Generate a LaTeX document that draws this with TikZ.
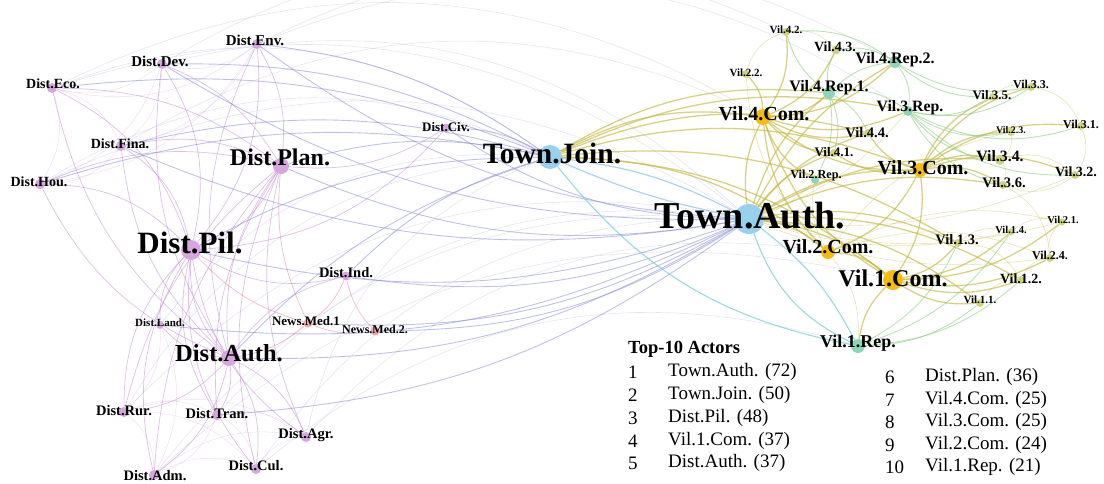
\documentclass[tikz,border=0pt]{standalone}
\usepackage{fontspec}
\setmainfont{Liberation Serif}
\pgfdeclarelayer{bg}
\pgfsetlayers{bg,main}
% node fills
\definecolor{cDist}{RGB}{214,166,222}
\definecolor{cNews}{RGB}{238,166,178}
\definecolor{cTown}{RGB}{150,210,238}
\definecolor{cCom}{RGB}{246,188,10}
\definecolor{cVil}{RGB}{206,212,122}
\definecolor{cRep}{RGB}{140,214,184}
% edge colours
\definecolor{eDist}{RGB}{200,148,210}
\definecolor{eNews}{RGB}{232,150,170}
\definecolor{eMix}{RGB}{138,142,212}
\definecolor{eOlive}{RGB}{196,184,66}
\definecolor{eGreen}{RGB}{140,206,130}
\definecolor{eCyan}{RGB}{110,202,212}
\definecolor{eBlue}{RGB}{120,182,228}
\definecolor{eFaint}{RGB}{196,196,224}
\tikzset{
  dot/.style={circle,inner sep=0pt,draw=none,fill=#1},
  lb/.style={font=\fontsize{#1}{#1}\selectfont\bfseries,inner sep=0pt,text=black},
  lg/.style={font=\fontsize{19}{19}\selectfont,inner sep=0pt,anchor=west},
  ed/.style={draw=eDist,line width=0.7pt,opacity=0.6},
  edf/.style={draw=eDist,line width=0.5pt,opacity=0.3},
  en/.style={draw=eNews,line width=0.8pt,opacity=0.6},
  em/.style={draw=eMix,line width=0.9pt,opacity=0.55},
  emf/.style={draw=eFaint,line width=0.6pt,opacity=0.45},
  eo/.style={draw=eOlive,line width=1.3pt,opacity=0.65},
  eof/.style={draw=eOlive,line width=0.6pt,opacity=0.4},
  eg/.style={draw=eGreen,line width=0.9pt,opacity=0.6},
  ec/.style={draw=eCyan,line width=1.1pt,opacity=0.7},
  eb/.style={draw=eBlue,line width=1.2pt,opacity=0.6},
}
\begin{document}
\begin{tikzpicture}[x=1pt,y=-1pt]
\useasboundingbox (0,0) rectangle (1104,483);

% ---------- district actors ----------
\node[dot=cDist,minimum size=10] (env)  at (257,44)  {};
\node[dot=cDist,minimum size=10] (dev)  at (162,64)  {};
\node[dot=cDist,minimum size=10] (eco)  at (52,88)   {};
\node[dot=cDist,minimum size=10] (fina) at (121,146) {};
\node[dot=cDist,minimum size=16] (plan) at (281,166) {};
\node[dot=cDist,minimum size=10] (hou)  at (40,184)  {};
\node[dot=cDist,minimum size=20] (pil)  at (191,250) {};
\node[dot=cDist,minimum size=9]  (civ)  at (446,128) {};
\node[dot=cDist,minimum size=9]  (ind)  at (346,276) {};
\node[dot=cDist,minimum size=8]  (land) at (160,325) {};
\node[dot=cNews,minimum size=9]  (nm1)  at (308,323) {};
\node[dot=cNews,minimum size=9]  (nm2)  at (375,331) {};
\node[dot=cDist,minimum size=16] (dauth) at (229,358) {};
\node[dot=cDist,minimum size=10] (rur)  at (124,412) {};
\node[dot=cDist,minimum size=10] (tran) at (217,415) {};
\node[dot=cDist,minimum size=10] (agr)  at (306,437) {};
\node[dot=cDist,minimum size=10] (cul)  at (256,469) {};
\node[dot=cDist,minimum size=10] (adm)  at (154,475) {};

% ---------- town actors ----------
\node[dot=cTown,minimum size=24] (tjoin) at (550,157) {};
\node[dot=cTown,minimum size=30] (tauth) at (749,219) {};

% ---------- village actors ----------
\node[dot=cVil,minimum size=8]  (v42)  at (786,32)   {};
\node[dot=cVil,minimum size=9]  (v43)  at (836,50)   {};
\node[dot=cRep,minimum size=12] (vr42) at (895,62)   {};
\node[dot=cVil,minimum size=8]  (v22)  at (746,74)   {};
\node[dot=cRep,minimum size=12] (vr41) at (829,93)   {};
\node[dot=cCom,minimum size=16] (v4c)  at (763,117)  {};
\node[dot=cRep,minimum size=10] (v3r)  at (908,111)  {};
\node[dot=cVil,minimum size=8]  (v33)  at (1031,87)  {};
\node[dot=cVil,minimum size=8]  (v35)  at (993,97)   {};
\node[dot=cVil,minimum size=8]  (v31)  at (1081,126) {};
\node[dot=cVil,minimum size=8]  (v23)  at (1011,132) {};
\node[dot=cVil,minimum size=8]  (v44)  at (868,133)  {};
\node[dot=cVil,minimum size=8]  (v41)  at (834,153)  {};
\node[dot=cVil,minimum size=10] (v34)  at (1000,160) {};
\node[dot=cCom,minimum size=14] (v3c)  at (920,170)  {};
\node[dot=cRep,minimum size=8]  (v2r)  at (815,180)  {};
\node[dot=cVil,minimum size=8]  (v36)  at (1003,185) {};
\node[dot=cVil,minimum size=8]  (v32)  at (1075,175) {};
\node[dot=cVil,minimum size=7]  (v21)  at (1062,222) {};
\node[dot=cVil,minimum size=7]  (v14)  at (1011,232) {};
\node[dot=cVil,minimum size=8]  (v13)  at (958,243)  {};
\node[dot=cCom,minimum size=14] (v2c)  at (828,252)  {};
\node[dot=cVil,minimum size=8]  (v24)  at (1050,258) {};
\node[dot=cCom,minimum size=20] (v1c)  at (893,280)  {};
\node[dot=cVil,minimum size=8]  (v12)  at (1021,280) {};
\node[dot=cVil,minimum size=8]  (v11)  at (980,303)  {};
\node[dot=cRep,minimum size=14] (v1r)  at (858,346)  {};

% ---------- labels ----------
\node[lb=15]   (env-t)  at (255,40)  {Dist.Env.};
\node[lb=15]   (dev-t)  at (160,61)  {Dist.Dev.};
\node[lb=14]   (eco-t)  at (53,84)   {Dist.Eco.};
\node[lb=14]   (fina-t) at (120,144) {Dist.Fina.};
\node[lb=24]   (plan-t) at (280,157) {Dist.Plan.};
\node[lb=14]   (hou-t)  at (39,182)  {Dist.Hou.};
\node[lb=31]   (pil-t)  at (190,243) {Dist.Pil.};
\node[lb=13]   (civ-t)  at (446,127) {Dist.Civ.};
\node[lb=14.5] (ind-t)  at (346,273) {Dist.Ind.};
\node[lb=11]   (land-t) at (160,323) {Dist.Land.};
\node[lb=13]   (nm1-t)  at (306,321) {News.Med.1};
\node[lb=12]   (nm2-t)  at (375,329) {News.Med.2.};
\node[lb=24.5] (dauth-t) at (229,353) {Dist.Auth.};
\node[lb=14.5] (rur-t)  at (124,411) {Dist.Rur.};
\node[lb=14.5] (tran-t) at (217,414) {Dist.Tran.};
\node[lb=14.5] (agr-t)  at (306,435) {Dist.Agr.};
\node[lb=14.5] (cul-t)  at (256,466) {Dist.Cul.};
\node[lb=14.5] (adm-t)  at (155,476) {Dist.Adm.};
\node[lb=29.5] (tjoin-t) at (552,153) {Town.Join.};
\node[lb=38]   (tauth-t) at (750,216) {Town.Auth.};
\node[lb=11]   (v42-t)  at (786,30)  {Vil.4.2.};
\node[lb=14]   (v43-t)  at (835,47)  {Vil.4.3.};
\node[lb=16]   (vr42-t) at (895,60)  {Vil.4.Rep.2.};
\node[lb=11]   (v22-t)  at (746,73)  {Vil.2.2.};
\node[lb=16]   (vr41-t) at (829,88)  {Vil.4.Rep.1.};
\node[lb=20]   (v4c-t)  at (764,114) {Vil.4.Com.};
\node[lb=15.8] (v3r-t)  at (910,108) {Vil.3.Rep.};
\node[lb=12]   (v33-t)  at (1031,84) {Vil.3.3.};
\node[lb=13]   (v35-t)  at (992,95)  {Vil.3.5.};
\node[lb=12]   (v31-t)  at (1081,124) {Vil.3.1.};
\node[lb=10]   (v23-t)  at (1011,130) {Vil.2.3.};
\node[lb=14.5] (v44-t)  at (867,133) {Vil.4.4.};
\node[lb=13]   (v41-t)  at (834,152) {Vil.4.1.};
\node[lb=15.8] (v34-t)  at (1000,156) {Vil.3.4.};
\node[lb=20]   (v3c-t)  at (923,168) {Vil.3.Com.};
\node[lb=12.2] (v2r-t)  at (816,176) {Vil.2.Rep.};
\node[lb=14.5] (v36-t)  at (1004,183) {Vil.3.6.};
\node[lb=14]   (v32-t)  at (1076,172) {Vil.3.2.};
\node[lb=10.5] (v21-t)  at (1063,220) {Vil.2.1.};
\node[lb=10.5] (v14-t)  at (1011,230) {Vil.1.4.};
\node[lb=14.5] (v13-t)  at (957,240) {Vil.1.3.};
\node[lb=20]   (v2c-t)  at (828,247) {Vil.2.Com.};
\node[lb=12]   (v24-t)  at (1050,255) {Vil.2.4.};
\node[lb=24]   (v1c-t)  at (893,278) {Vil.1.Com.};
\node[lb=14]   (v12-t)  at (1021,279) {Vil.1.2.};
\node[lb=11]   (v11-t)  at (980,300) {Vil.1.1.};
\node[lb=18]   (v1r-t)  at (858,343) {Vil.1.Rep.};

% ---------- ranking table ----------
\node[anchor=west,inner sep=0pt,font=\fontsize{18.5}{18.5}\selectfont\bfseries] (top) at (628,349) {Top-10 Actors};
\node[lg] (n1) at (628,372) {1};  \node[lg] (r1) at (668,372) {Town.Auth. (72)};
\node[lg] (n2) at (628,395) {2};  \node[lg] (r2) at (668,395) {Town.Join. (50)};
\node[lg] (n3) at (628,418) {3};  \node[lg] (r3) at (668,418) {Dist.Pil. (48)};
\node[lg] (n4) at (628,441) {4};  \node[lg] (r4) at (668,441) {Vil.1.Com. (37)};
\node[lg] (n5) at (628,463) {5};  \node[lg] (r5) at (668,463) {Dist.Auth. (37)};
\node[lg] (n6) at (885,377) {6};  \node[lg] (r6) at (925,377) {Dist.Plan. (36)};
\node[lg] (n7) at (885,400) {7};  \node[lg] (r7) at (925,400) {Vil.4.Com. (25)};
\node[lg] (n8) at (885,422) {8};  \node[lg] (r8) at (925,422) {Vil.3.Com. (25)};
\node[lg] (n9) at (885,445) {9};  \node[lg] (r9) at (925,445) {Vil.2.Com. (24)};
\node[lg] (n10) at (885,467) {10}; \node[lg] (r10) at (925,467) {Vil.1.Rep. (21)};

% ---------- ties ----------
\begin{pgfonlayer}{bg}
% faint long-range ties
\foreach \a/\b in {eco/v4c,dev/v42,env/vr42,hou/tjoin,eco/tauth,fina/v4c,dev/tauth,
                   env/v3r,adm/tauth,cul/tauth,rur/tauth,agr/tjoin,land/tjoin,hou/tauth,
                   adm/v1c,cul/v1r,rur/tjoin,tran/tauth,agr/v2c,eco/tjoin}
  \draw[emf] (\a) to[bend left=28] (\b);
% district network
\foreach \b in {env,dev,eco,fina,plan,hou,land,dauth,rur,tran,agr,cul,adm,ind,civ}
  \draw[ed] (pil) to[bend right=22] (\b);
\foreach \b in {env,dev,eco,fina,plan,hou,land,rur,tran,agr,cul,adm,ind}
  \draw[ed] (dauth) to[bend left=20] (\b);
\foreach \b in {env,dev,eco,fina,hou,tran,agr,cul,civ,rur,adm}
  \draw[ed] (plan) to[bend right=18] (\b);
\foreach \a/\b in {env/dev,env/eco,env/fina,dev/eco,dev/fina,eco/fina,eco/hou,fina/hou,
                   rur/tran,rur/adm,rur/cul,rur/agr,tran/adm,tran/cul,tran/agr,adm/cul,
                   cul/agr,adm/agr,land/rur,land/adm,env/hou,dev/hou}
  \draw[edf] (\a) to[bend left=25] (\b);
\foreach \a/\b in {nm1/ind,nm1/nm2,ind/nm2,dauth/nm1,plan/nm1,pil/nm1}
  \draw[en] (\a) to[bend right=15] (\b);
% district to town
\foreach \b in {pil,plan,dauth,env,dev,eco,fina,civ,ind,hou}
  \draw[em] (tjoin) to[bend right=14] (\b);
\foreach \b in {pil,plan,dauth,env,dev,civ,ind,nm1,nm2,tran,land,fina}
  \draw[em] (\b) to[bend right=16] (tauth);
\draw[eb] (tjoin) to[bend left=10] (tauth);
\draw[eb] (tjoin) to[bend right=6] (tauth);
% town to village
\foreach \b in {v4c,v3c,v1c,v2c,vr41,v3r,v13,v44}
  \draw[eo] (tjoin) to[bend left=18] (\b);
\foreach \b in {v4c,v3c,v1c,v2c,v41,v44,v13,v12,v11,v34,v36,vr41,vr42}
  \draw[eo] (tauth) to[bend left=16] (\b);
\foreach \b in {v3r,v2r,v14,v24,v21,v32}
  \draw[eof] (tauth) to[bend right=14] (\b);
\draw[ec] (tauth) to[bend right=22] (v1r);
\draw[ec] (tjoin) to[bend right=20] (v1r);
\draw[ec] (tauth) to[bend left=12] (v1r);
% village network
\foreach \b in {v42,v43,v22,vr41,vr42,v44,v41,v3c,v1c,v2c,v3r,v2r}
  \draw[eo] (v4c) to[bend right=20] (\b);
\foreach \b in {v33,v35,v31,v23,v34,v36,v32,v1c,v2c,v44,v41}
  \draw[eo] (v3c) to[bend left=20] (\b);
\foreach \b in {v11,v12,v13,v14,v1r,v2c,v24,v21}
  \draw[eo] (v1c) to[bend right=18] (\b);
\foreach \b in {v21,v22,v23,v24,v2r,v1r}
  \draw[eof] (v2c) to[bend left=20] (\b);
\foreach \b in {v33,v35,v31,v34,v36,v32,vr42,vr41,v23}
  \draw[eg] (v3r) to[bend right=22] (\b);
\foreach \b in {v41,v42,v43,v44,vr42,v2r}
  \draw[eg] (vr41) to[bend left=18] (\b);
\foreach \b in {v43,v42,v35,v33}
  \draw[eg] (vr42) to[bend right=20] (\b);
\foreach \b in {v11,v12,v13,v14}
  \draw[eg] (v1r) to[bend right=18] (\b);
\foreach \a/\b in {v11/v12,v12/v24,v24/v21,v13/v14,v14/v21,v31/v32,v32/v36,v33/v31,
                   v34/v36,v35/v33,v23/v34,v42/v43,v22/v42,v13/v12,v36/v24,v34/v32}
  \draw[eof] (\a) to[bend left=28] (\b);
\end{pgfonlayer}
\end{tikzpicture}
\end{document}
